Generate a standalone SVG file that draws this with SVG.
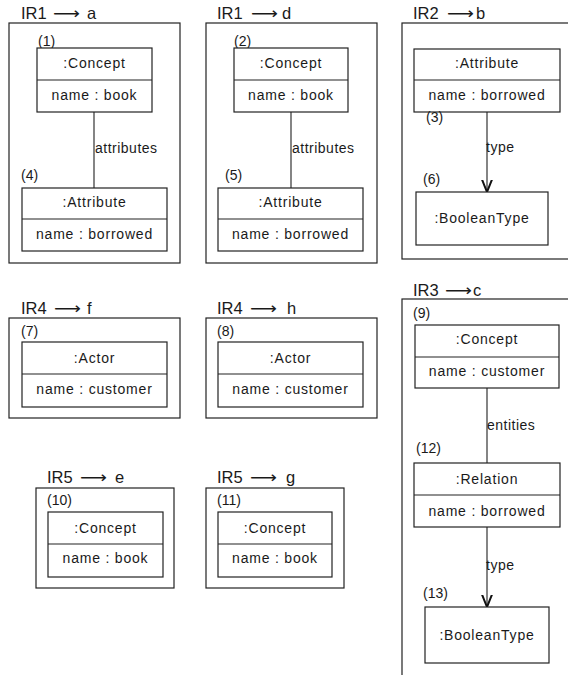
<svg xmlns="http://www.w3.org/2000/svg" width="568" height="675" viewBox="0 0 568 675">
<style>
text{font-family:"Liberation Sans",Arial,"DejaVu Sans",sans-serif;fill:#1a1a1a}
.t{font-size:16.5px}
.ar{font-family:"DejaVu Sans","Liberation Sans",sans-serif;font-size:16px}
.b{font-size:14px;letter-spacing:0.8px;text-anchor:middle}
.n{font-size:14px}
.l{font-size:14px;letter-spacing:0.5px}
.f{fill:none;stroke:#222;stroke-width:1.2}
.o{fill:#fff;stroke:#222;stroke-width:1.2}
.d{stroke:#222;stroke-width:1.2}
.c{stroke:#333;stroke-width:1.2;fill:none}
</style>
<defs>
<marker id="v" viewBox="0 0 14 12" refX="12.5" refY="6" markerWidth="14" markerHeight="12" markerUnits="userSpaceOnUse" orient="auto">
<path d="M0,1 L12.5,6 L0,11" fill="none" stroke="#111" stroke-width="2"/>
</marker>
</defs>

<g id="frame-IR1-a">
<text class="t" y="19"><tspan x="21">IR1</tspan></text><text class="ar" x="53" y="19" textLength="27" lengthAdjust="spacingAndGlyphs">⟶</text><text class="t" x="87" y="19">a</text>
<rect class="f" x="9" y="23" width="171" height="240"/>
</g>
<g id="frame-IR1-d">
<text class="t" x="217" y="19">IR1</text><text class="ar" x="251" y="19" textLength="27" lengthAdjust="spacingAndGlyphs">⟶</text><text class="t" x="282" y="19">d</text>
<rect class="f" x="206" y="23" width="171" height="240"/>
</g>
<g id="frame-IR2-b">
<text class="t" x="413" y="19">IR2</text><text class="ar" x="447" y="19" textLength="27" lengthAdjust="spacingAndGlyphs">⟶</text><text class="t" x="476" y="19">b</text>
<rect class="f" x="402" y="23" width="200" height="236"/>
</g>
<g id="frame-IR4-f">
<text class="t" x="21" y="314">IR4</text><text class="ar" x="54" y="314" textLength="27" lengthAdjust="spacingAndGlyphs">⟶</text><text class="t" x="87" y="314">f</text>
<rect class="f" x="9" y="318" width="171" height="100"/>
</g>
<g id="frame-IR4-h">
<text class="t" x="217" y="314">IR4</text><text class="ar" x="250" y="314" textLength="27" lengthAdjust="spacingAndGlyphs">⟶</text><text class="t" x="287" y="314">h</text>
<rect class="f" x="206" y="318" width="171" height="100"/>
</g>
<g id="frame-IR3-c">
<text class="t" x="413" y="296">IR3</text><text class="ar" x="445" y="296" textLength="27" lengthAdjust="spacingAndGlyphs">⟶</text><text class="t" x="473" y="296">c</text>
<rect class="f" x="402" y="299" width="200" height="400"/>
</g>
<g id="frame-IR5-e">
<text class="t" x="47" y="483">IR5</text><text class="ar" x="80" y="483" textLength="27" lengthAdjust="spacingAndGlyphs">⟶</text><text class="t" x="115" y="483">e</text>
<rect class="f" x="36" y="488" width="138" height="100"/>
</g>
<g id="frame-IR5-g">
<text class="t" x="217" y="483">IR5</text><text class="ar" x="250" y="483" textLength="27" lengthAdjust="spacingAndGlyphs">⟶</text><text class="t" x="286" y="483">g</text>
<rect class="f" x="206" y="488" width="138" height="100"/>
</g>

<g id="connectors">
<line class="c" x1="94" y1="112" x2="94" y2="188"/>
<text class="l" x="95" y="153">attributes</text>
<line class="c" x1="291" y1="112" x2="291" y2="188"/>
<text class="l" x="292" y="153">attributes</text>
<line class="c" x1="487" y1="112" x2="487" y2="192" marker-end="url(#v)"/>
<text class="l" x="486" y="152">type</text>
<line class="c" x1="487" y1="388" x2="487" y2="463"/>
<text class="l" x="487" y="430">entities</text>
<line class="c" x1="487" y1="527" x2="487" y2="607" marker-end="url(#v)"/>
<text class="l" x="486" y="570">type</text>
</g>

<g id="n1">
<text class="n" x="38" y="46">(1)</text>
<rect class="o" x="37" y="48" width="115" height="64"/>
<line class="d" x1="37" y1="80" x2="152" y2="80"/>
<text class="b" x="94.5" y="68">:Concept</text>
<text class="b" x="94.5" y="100">name : book</text>
</g>
<g id="n4">
<text class="n" x="21" y="180">(4)</text>
<rect class="o" x="22" y="188" width="145" height="63"/>
<line class="d" x1="22" y1="219" x2="167" y2="219"/>
<text class="b" x="94.5" y="207">:Attribute</text>
<text class="b" x="94.5" y="239">name : borrowed</text>
</g>
<g id="n2">
<text class="n" x="234" y="46">(2)</text>
<rect class="o" x="234" y="48" width="114" height="64"/>
<line class="d" x1="234" y1="80" x2="348" y2="80"/>
<text class="b" x="291" y="68">:Concept</text>
<text class="b" x="291" y="100">name : book</text>
</g>
<g id="n5">
<text class="n" x="225" y="180">(5)</text>
<rect class="o" x="218" y="188" width="145" height="63"/>
<line class="d" x1="218" y1="219" x2="363" y2="219"/>
<text class="b" x="290.5" y="207">:Attribute</text>
<text class="b" x="290.5" y="239">name : borrowed</text>
</g>
<g id="n3">
<rect class="o" x="414" y="49" width="146" height="63"/>
<line class="d" x1="414" y1="80" x2="560" y2="80"/>
<text class="b" x="487" y="68">:Attribute</text>
<text class="b" x="487" y="100">name : borrowed</text>
<text class="n" x="426" y="122">(3)</text>
</g>
<g id="n6">
<text class="n" x="423" y="184">(6)</text>
<rect class="o" x="416" y="192" width="132" height="53"/>
<text class="b" x="482" y="223">:BooleanType</text>
</g>
<g id="n7">
<text class="n" x="21" y="336">(7)</text>
<rect class="o" x="22" y="342" width="145" height="65"/>
<line class="d" x1="22" y1="374" x2="167" y2="374"/>
<text class="b" x="94.5" y="363">:Actor</text>
<text class="b" x="94.5" y="394">name : customer</text>
</g>
<g id="n8">
<text class="n" x="217" y="336">(8)</text>
<rect class="o" x="218" y="342" width="145" height="65"/>
<line class="d" x1="218" y1="374" x2="363" y2="374"/>
<text class="b" x="290.5" y="363">:Actor</text>
<text class="b" x="290.5" y="394">name : customer</text>
</g>
<g id="n9">
<text class="n" x="413" y="318">(9)</text>
<rect class="o" x="415" y="325" width="144" height="63"/>
<line class="d" x1="415" y1="357" x2="559" y2="357"/>
<text class="b" x="487" y="344">:Concept</text>
<text class="b" x="487" y="376">name : customer</text>
</g>
<g id="n12">
<text class="n" x="416" y="453">(12)</text>
<rect class="o" x="414" y="463" width="146" height="64"/>
<line class="d" x1="414" y1="495" x2="560" y2="495"/>
<text class="b" x="487" y="484">:Relation</text>
<text class="b" x="487" y="516">name : borrowed</text>
</g>
<g id="n13">
<text class="n" x="423" y="598">(13)</text>
<rect class="o" x="425" y="607" width="124" height="56"/>
<text class="b" x="487" y="640">:BooleanType</text>
</g>
<g id="n10">
<text class="n" x="47" y="505">(10)</text>
<rect class="o" x="48" y="512" width="115" height="65"/>
<line class="d" x1="48" y1="544" x2="163" y2="544"/>
<text class="b" x="105.5" y="533">:Concept</text>
<text class="b" x="105.5" y="563">name : book</text>
</g>
<g id="n11">
<text class="n" x="217" y="505">(11)</text>
<rect class="o" x="218" y="512" width="114" height="65"/>
<line class="d" x1="218" y1="544" x2="332" y2="544"/>
<text class="b" x="275" y="533">:Concept</text>
<text class="b" x="275" y="563">name : book</text>
</g>
</svg>
